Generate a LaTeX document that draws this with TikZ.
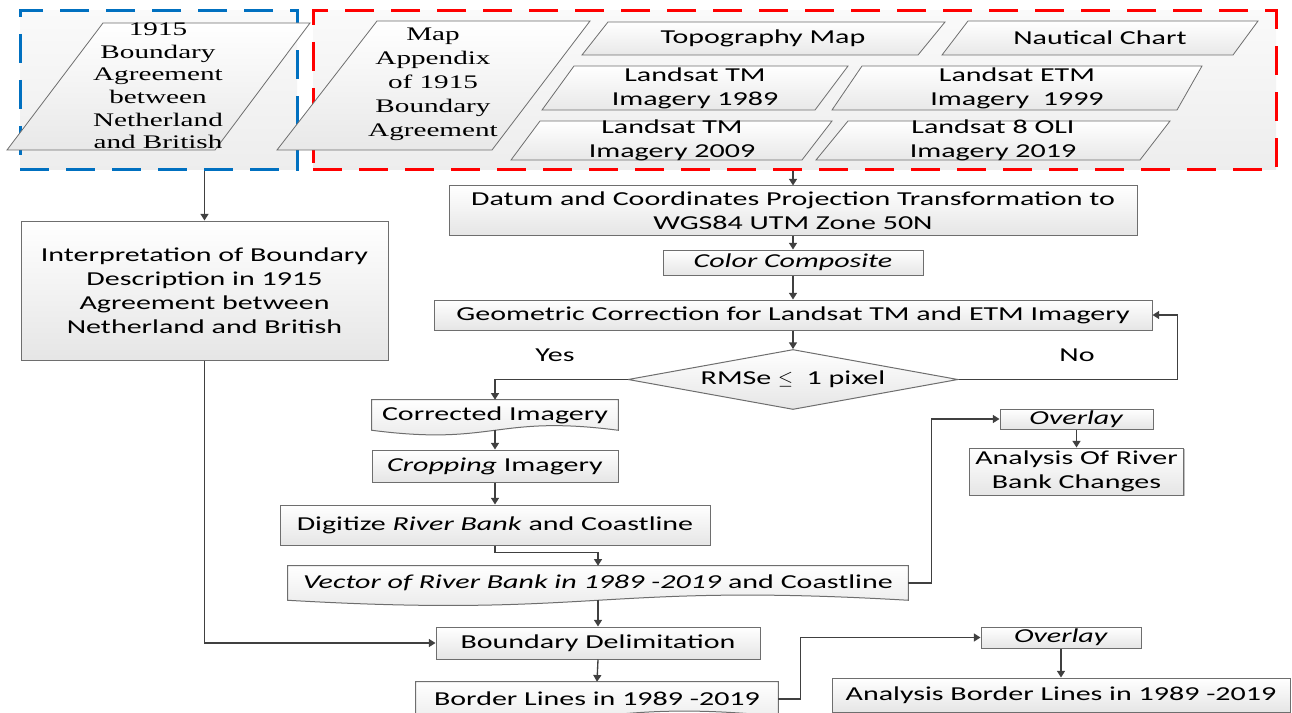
\documentclass[tikz,border=0pt]{standalone}
\usepackage{fontspec}
\setsansfont{Carlito}[FakeStretch=1.52]
\newfontfamily\serifw{Liberation Serif}[FakeStretch=1.52]
\usetikzlibrary{arrows.meta,shapes.geometric,shadows,backgrounds,calc}
\definecolor{bord}{RGB}{110,110,110}
\definecolor{lnc}{RGB}{64,64,64}
\definecolor{blueD}{RGB}{0,112,192}
\definecolor{redD}{RGB}{255,0,0}
\newcommand\sfz{\sffamily\fontsize{14.8}{18}\selectfont}
\newcommand\srza{\serifw\fontsize{14.4}{17}\selectfont}
\newcommand\srzb{\serifw\fontsize{14.4}{18}\selectfont}
\tikzset{
  grp/.style={rectangle, line width=2.25pt, dash pattern=on 21.75pt off 12.75pt,
    top color=gray!4, bottom color=gray!14, inner sep=0pt},
  para/.style={draw=bord, line width=0.6pt, top color=white, bottom color=gray!18},
  ptxt/.style={align=center, inner sep=0pt},
  proc/.style={rectangle, draw=bord, line width=0.75pt, top color=white, bottom color=gray!20,
    inner sep=0pt, font=\sfz, align=center,
    drop shadow={shadow xshift=1pt, shadow yshift=-1pt, opacity=0.25, fill=black}},
  docn/.style={rectangle, inner sep=0pt, font=\sfz, align=center},
  docfill/.style={draw=bord, line width=0.75pt, top color=white, bottom color=gray!20},
  dia/.style={diamond, draw=bord, line width=0.75pt, top color=white, bottom color=gray!20,
    inner sep=0pt, aspect=5.5, minimum width={330*0.75pt}, minimum height={60*0.75pt}, font=\sfz},
  arr/.style={draw=lnc, line width=1pt, -{Triangle[length=5pt,width=6pt]}},
  lbl/.style={font=\sfz, inner sep=0pt},
}
\newcommand\docshape[2]{%
  \begin{pgfonlayer}{background}
  \shade[docfill] (#1.north west) -- (#1.north east) -- (#1.south east)
     .. controls ($(#1.south)+(0,-#2)$) and ($(#1.south)+(0,#2)$) .. (#1.south west) -- cycle;
  \end{pgfonlayer}}
\begin{document}
\begin{tikzpicture}[x=0.75pt,y=-0.75pt]
\path[use as bounding box, clip] (0,0) rectangle (1292,713);
\begin{pgfonlayer}{background}
\fill[white] (0,0) rectangle (1292,713);
\end{pgfonlayer}

% dashed containers
\node[grp, draw=blueD, minimum width={277*0.75pt}, minimum height={159*0.75pt}] (blue) at (158.5,90.5) {};
\node[grp, draw=redD, minimum width={963*0.75pt}, minimum height={159*0.75pt}] (red) at (794.5,90.5) {};

% parallelograms (inputs)
\shade[para] (7,150) -- (103,23) -- (310,23) -- (215,150) -- cycle;
\shade[para] (277,150) -- (377,21) -- (590,21) -- (492,150) -- cycle;
\shade[para] (582,55) -- (608,22) -- (945,22) -- (918,55) -- cycle;
\shade[para] (942,55) -- (968,21) -- (1258,21) -- (1233,55) -- cycle;
\shade[para] (542,110) -- (574,66) -- (848,66) -- (815,110) -- cycle;
\shade[para] (832,110) -- (862,66) -- (1202,66) -- (1177,110) -- cycle;
\shade[para] (511,160) -- (540,121) -- (832,121) -- (802,160) -- cycle;
\shade[para] (816,160) -- (848,121) -- (1170,121) -- (1140,160) -- cycle;

\node[ptxt, font=\srza] (p1) at (158,86) {1915\\Boundary\\Agreement\\between\\Netherland\\and British};
\node[ptxt, font=\srzb] (p2) at (433,84.5) {Map\\Appendix\\of 1915\\Boundary\\Agreement};
\node[ptxt, font=\sfz] (topo) at (763,38) {Topography Map};
\node[ptxt, font=\sfz] (naut) at (1100,38) {Nautical Chart};
\node[ptxt, font=\sfz] (l89) at (695,88) {Landsat TM\\Imagery 1989};
\node[ptxt, font=\sfz] (l99) at (1017,88) {Landsat ETM\\Imagery\ \ 1999};
\node[ptxt, font=\sfz] (l09) at (672,140) {Landsat TM\\Imagery 2009};
\node[ptxt, font=\sfz] (l19) at (993,140) {Landsat 8 OLI\\Imagery 2019};

% process boxes
\node[proc, minimum width={688*0.75pt}, minimum height={49*0.75pt}] (datum) at (793,210.5)
  {Datum and Coordinates Projection Transformation to\\WGS84 UTM Zone 50N};
\node[proc, minimum width={260*0.75pt}, minimum height={25*0.75pt}] (color) at (793,262.5) {\textit{Color Composite}};
\node[proc, minimum width={718*0.75pt}, minimum height={30*0.75pt}] (geo) at (793,315)
  {Geometric Correction for Landsat TM and ETM Imagery};
\node[dia] (dia) at (793,379.5) {RMSe $\leq$\ \ 1 pixel};
\node[proc, minimum width={367*0.75pt}, minimum height={139*0.75pt}] (interp) at (204.5,290.5)
  {Interpretation of Boundary\\Description in 1915\\Agreement between\\Netherland and British};
\node[docn, minimum width={246*0.75pt}, minimum height={30*0.75pt}] (corr) at (495,415) {Corrected Imagery};
\docshape{corr}{16}
\node[proc, minimum width={246*0.75pt}, minimum height={32*0.75pt}] (crop) at (495,466) {\textit{Cropping} Imagery};
\node[proc, minimum width={430*0.75pt}, minimum height={40*0.75pt}] (digit) at (495,525) {Digitize \textit{River Bank} and Coastline};
\node[docn, minimum width={620*0.75pt}, minimum height={34*0.75pt}] (vec) at (598,583)
  {\textit{Vector of River Bank in 1989 -2019} and Coastline};
\docshape{vec}{18}
\node[proc, minimum width={324*0.75pt}, minimum height={32*0.75pt}] (bdel) at (598,643) {Boundary Delimitation};
\node[docn, minimum width={362*0.75pt}, minimum height={34*0.75pt}] (bord) at (597,699) {Border Lines in 1989 -2019};
\docshape{bord}{18}
\node[proc, minimum width={153*0.75pt}, minimum height={20*0.75pt}] (ov1) at (1076.5,419) {\textit{Overlay}};
\node[proc, minimum width={214*0.75pt}, minimum height={47*0.75pt}] (an1) at (1076.5,471.5) {Analysis Of River\\Bank Changes};
\node[proc, minimum width={160*0.75pt}, minimum height={21*0.75pt}] (ov2) at (1061,637.5) {\textit{Overlay}};
\node[proc, minimum width={458*0.75pt}, minimum height={34*0.75pt}] (an2) at (1061,695) {Analysis Border Lines in 1989 -2019};

% labels
\node[lbl] (yes) at (555,355) {Yes};
\node[lbl] (no) at (1077,355) {No};

% connectors
\draw[arr] (interp.north |- blue.south) -- (interp.north);
\draw[arr] (datum.north |- red.south) -- (datum.north);
\draw[arr] (datum.south) -- (color.north);
\draw[arr] (color.south) -- (geo.north);
\draw[arr] (geo.south) -- (dia.north);
\draw[arr] (dia.east) -- ++(219,0) |- (geo.east);
\draw[arr] (dia.west) -| (corr.north);
\draw[arr] (corr.south) -- (crop.north);
\draw[arr] (crop.south) -- (digit.north);
\draw[arr] (digit.south) -- ++(0,7) -| (vec.north);
\draw[arr] (vec.south) -- (bdel.north);
\draw[arr] (interp.south) |- (bdel.west);
\draw[arr] (bdel.south) -- (bord.north);
\draw[arr] (vec.east) -- ++(23,0) |- (ov1.west);
\draw[arr] (ov1.south) -- (an1.north);
\draw[arr] (bord.east) -- ++(22,0) |- (ov2.west);
\draw[arr] (ov2.south) -- (an2.north);
\end{tikzpicture}
\end{document}
